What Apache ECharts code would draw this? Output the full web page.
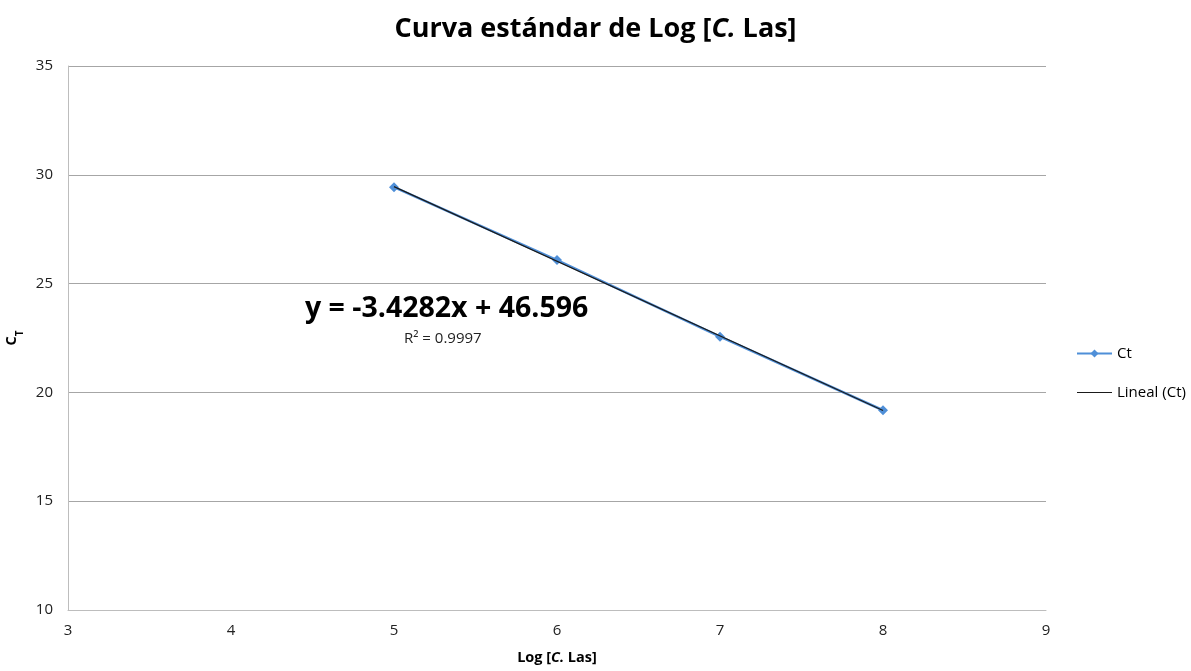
<!DOCTYPE html>
<html>
<head>
<meta charset="utf-8">
<script src="https://cdn.jsdelivr.net/npm/echarts@6/dist/echarts.min.js"></script>
<style>
  html, body { margin: 0; padding: 0; background: #fff; }
  #chart { width: 1191px; height: 671px; }
</style>
</head>
<body>
<div id="chart"></div>
<script>
// Standard curve: log concentration vs. threshold cycle
const logConc = [5, 6, 7, 8];
const ctValues = [29.43, 26.08, 22.56, 19.18];

// Linear fit reported on the chart
const slope = -3.4282;
const intercept = 46.596;
const rSquared = 0.9997;

const xTicks = [3, 4, 5, 6, 7, 8, 9];
const yTicks = [10, 15, 20, 25, 30, 35];

const trendData = [logConc[0], logConc[logConc.length - 1]].map(x => [x, slope * x + intercept]);

const FONT = '"Open Sans", "Liberation Sans", sans-serif';

const chart = echarts.init(document.getElementById('chart'));
chart.setOption({
  animation: false,
  title: {
    text: 'Curva estándar de Log [{i|C.} Las]',
    left: 'center',
    top: 11,
    textStyle: {
      fontFamily: FONT, fontSize: 27, fontWeight: 'bold', color: '#000',
      rich: { i: { fontFamily: FONT, fontSize: 27, fontWeight: 'bold', fontStyle: 'italic', color: '#000' } }
    }
  },
  grid: { left: 68, right: 145, top: 66, bottom: 61, containLabel: false, outerBoundsMode: 'none' },
  legend: {
    orient: 'vertical',
    left: 1076,
    top: 346,
    padding: 0,
    itemGap: 24,
    itemWidth: 35,
    itemHeight: 10,
    textStyle: { fontFamily: FONT, fontSize: 15, color: '#000' },
    data: [
      { name: 'Ct' },
      { name: 'Lineal (Ct)', icon: 'path://M0,0 L40,0 L40,1 L0,1 Z' }
    ]
  },
  xAxis: {
    type: 'value',
    min: xTicks[0], max: xTicks[xTicks.length - 1], interval: 1,
    name: '{b|Log [}{i|C.}{b| Las]}',
    nameLocation: 'middle',
    nameGap: 40,
    nameTextStyle: {
      fontFamily: FONT, fontSize: 14.5, fontWeight: 'bold', color: '#000',
      rich: {
        b: { fontFamily: FONT, fontSize: 14.5, fontWeight: 'bold', color: '#000' },
        i: { fontFamily: FONT, fontSize: 14.5, fontWeight: 'bold', fontStyle: 'italic', color: '#000' }
      }
    },
    axisLine: { lineStyle: { color: '#bdbdbd' } },
    axisTick: { show: false },
    axisLabel: { fontFamily: FONT, fontSize: 15, color: '#222', margin: 13 },
    splitLine: { show: false }
  },
  yAxis: {
    type: 'value',
    min: yTicks[0], max: yTicks[yTicks.length - 1], interval: 5,
    name: '{c|C}{s|T}',
    nameLocation: 'middle',
    nameGap: 42,
    nameRotate: 90,
    nameTextStyle: {
      fontFamily: FONT, fontSize: 14.5, fontWeight: 'bold', color: '#000',
      rich: {
        c: { fontFamily: FONT, fontSize: 14.5, fontWeight: 'bold', color: '#000', lineHeight: 18, verticalAlign: 'top' },
        s: { fontFamily: FONT, fontSize: 10, fontWeight: 'bold', color: '#000', lineHeight: 10, padding: [11, 0, 0, 0], verticalAlign: 'top' }
      }
    },
    axisLine: { show: true, lineStyle: { color: '#bdbdbd' } },
    axisTick: { show: false },
    axisLabel: { fontFamily: FONT, fontSize: 15, color: '#222', margin: 15 },
    splitLine: { show: true, lineStyle: { color: '#a6a6a6', width: 1 } }
  },
  series: [
    {
      name: 'Ct',
      type: 'line',
      data: logConc.map((x, i) => [x, ctValues[i]]),
      symbol: 'diamond',
      symbolSize: 10,
      lineStyle: { color: '#4f8fd8', width: 2.5 },
      itemStyle: { color: '#4f8fd8' },
      z: 2
    },
    {
      name: 'Lineal (Ct)',
      type: 'line',
      data: trendData,
      symbol: 'none',
      lineStyle: { color: '#1a1a1a', width: 1.2 },
      itemStyle: { color: '#1a1a1a' },
      z: 3
    }
  ],
  graphic: [
    {
      type: 'text',
      left: 305, top: 294,
      style: {
        text: 'y = ' + slope + 'x + ' + intercept,
        font: 'bold 28.5px ' + FONT,
        fill: '#000'
      }
    },
    {
      type: 'text',
      left: 404, top: 331,
      style: {
        text: 'R² = ' + rSquared,
        font: '15px ' + FONT,
        fill: '#222'
      }
    }
  ]
});
</script>
</body>
</html>
